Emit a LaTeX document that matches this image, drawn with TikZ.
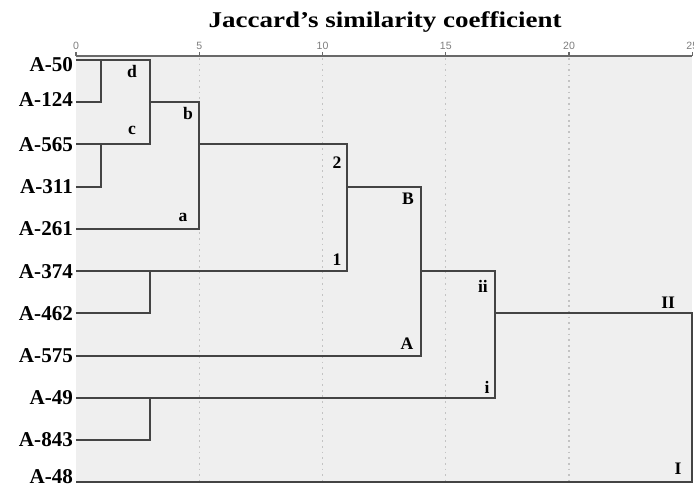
\documentclass[tikz,border=0pt]{standalone}
\usepackage{fontspec}
\setmainfont{Liberation Serif}
\newfontfamily\tickfont{Liberation Sans}
\usepackage{xcolor}
\usepackage{graphicx}
\usepackage{tikz}
\usetikzlibrary{positioning, calc}
\definecolor{plotbg}{RGB}{239, 239, 239}
\definecolor{treegray}{RGB}{68, 68, 68}
\definecolor{axisgray}{RGB}{105, 105, 105}
\definecolor{gridgray}{RGB}{195, 195, 195}
\definecolor{ticktext}{RGB}{125, 125, 125}
\tikzset{
    treeline/.style={treegray, line width=1.4pt},
    gridline/.style={gridgray, line width=0.9pt, dash pattern=on 1.2pt off 2.8pt},
    leaflabel/.style={anchor=east, inner sep=2pt, font=\fontsize{15}{15}\selectfont\bfseries},
    tag/.style={inner sep=0pt, font=\fontsize{12.5}{12.5}\selectfont\bfseries},
    ticklabel/.style={ticktext, inner sep=1pt, font=\tickfont\fontsize{7.5}{7.5}\selectfont},
}

\begin{document}
\begin{tikzpicture}[x=0.616cm, y=-1.055cm]
    \useasboundingbox (-3.083,-1.422) rectangle (25.07,10.118);

    % Background
    \fill[plotbg] (0,-0.095) rectangle (25,10.03);

    % Grid
    \foreach \t in {5,10,15,20}
        \draw[gridline] (\t,-0.05) -- (\t,10.03);

    % Axis
    \draw[axisgray, line width=1.1pt] (0,-0.095) -- (25,-0.095);
    \foreach \t in {0,5,...,25}
        \draw[axisgray, line width=0.9pt] (\t,-0.095) -- (\t,-0.2) node[ticklabel, above] {\t};

    % Title
    \node[font=\fontsize{16}{16}\selectfont\bfseries, anchor=base] (title) at (12.54,-0.78)
        {\scalebox{1.2}[1]{Jaccard's similarity coefficient}};

    % Leaves
    \foreach \name/\dy [count=\i from 0] in {50/-3pt,124/2pt,565/0pt,311/0pt,261/0pt,374/0pt,462/0pt,575/0pt,49/0pt,843/0pt,48/4pt} {
        \coordinate (A\name) at (0,\i);
        \node[leaflabel, yshift=\dy] (l\name) at (A\name) {A-\name};
    }

    % Joins
    \coordinate (p50) at (1,0);
    \coordinate (p565) at (1,2);
    \coordinate (p374) at (3,5);
    \coordinate (p49) at (3,8);
    \coordinate (cd) at (3,0);
    \coordinate (cc) at (3,2);
    \coordinate (cb) at (5,1);
    \coordinate (ca) at (5,4);
    \coordinate (c2) at (11,2);
    \coordinate (c1) at (11,5);
    \coordinate (cB) at (14,3);
    \coordinate (cA) at (14,7);
    \coordinate (cii) at (17,5);
    \coordinate (ci) at (17,8);
    \coordinate (cII) at (25,6);
    \coordinate (cI) at (25,10);

    % Tree
    \draw[treeline] (A124) -| (p50);
    \draw[treeline] (A311) -| (p565);
    \draw[treeline] (A50) -- (cd) -- (cc) -- (A565);
    \draw[treeline] (cc |- A124) -- (cb) -- (ca) -- (A261);
    \draw[treeline] (A462) -| (p374);
    \draw[treeline] (cb |- A565) -- (c2) -- (c1) -- (A374);
    \draw[treeline] (c2 |- A311) -- (cB) -- (cA) -- (A575);
    \draw[treeline] (A843) -| (p49);
    \draw[treeline] (cB |- A374) -- (cii) -- (ci) -- (A49);
    \draw[treeline] (cii |- A462) -- (cII) -- (cI) -- (A48);

    % Cluster tags
    \node[tag] (tagd) at (2.27,0.26) {d};
    \node[tag] (tagb) at (4.54,1.26) {b};
    \node[tag] (tagc) at (2.27,1.66) {c};
    \node[tag] (taga) at (4.34,3.74) {a};
    \node[tag] (tag2) at (10.59,2.42) {2};
    \node[tag] (tag1) at (10.59,4.72) {1};
    \node[tag] (tagB) at (13.47,3.29) {B};
    \node[tag] (tagA) at (13.43,6.71) {A};
    \node[tag] (tagii) at (16.51,5.36) {ii};
    \node[tag] (tagi) at (16.68,7.75) {i};
    \node[tag] (tagII) at (24.02,5.76) {II};
    \node[tag] (tagI) at (24.42,9.69) {I};
\end{tikzpicture}
\end{document}
